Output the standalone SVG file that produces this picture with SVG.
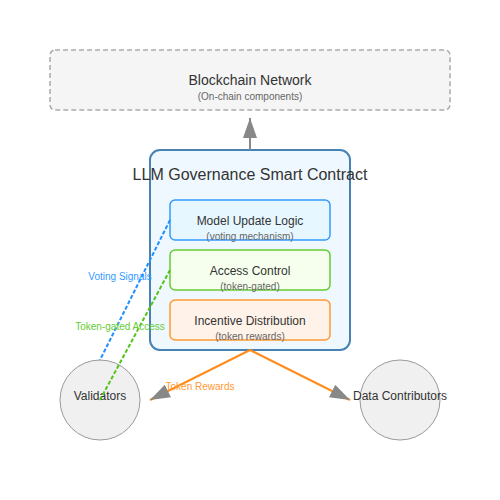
<svg xmlns="http://www.w3.org/2000/svg" width="500" height="500" viewBox="0 0 500 500">
<defs>
<marker id="arrow" markerWidth="10" markerHeight="7" refX="10" refY="3.5" orient="auto">
<polygon points="0 0, 10 3.5, 0 7" fill="#888"/>
</marker>
<style>
text{font-family:"Liberation Sans",Arial,sans-serif;text-anchor:middle}
.t{fill:#333}
.s{fill:#666;font-size:10px}
.lbl{font-size:10px}
</style>
</defs>
<rect width="500" height="500" fill="#fff"/>
<g id="blockchain">
<rect x="50" y="50" width="400" height="60" rx="5" fill="#f5f5f5" stroke="#aaa" stroke-width="1.5" stroke-dasharray="5,3"/>
<text x="250" y="85" class="t" font-size="14">Blockchain Network</text>
<text x="250" y="100" class="s">(On-chain components)</text>
</g>
<g id="contract">
<rect x="150" y="150" width="200" height="200" rx="10" fill="#f0f8ff" stroke="#4682b4" stroke-width="2"/>
<text x="250" y="180" class="t" font-size="16">LLM Governance Smart Contract</text>
</g>
<g id="model-update">
<rect x="170" y="200" width="160" height="40" rx="5" fill="#e6f7ff" stroke="#3399ff" stroke-width="1.5"/>
<text x="250" y="225" class="t" font-size="12">Model Update Logic</text>
<text x="250" y="240" class="s">(voting mechanism)</text>
</g>
<g id="access-control">
<rect x="170" y="250" width="160" height="40" rx="5" fill="#f6ffed" stroke="#66cc33" stroke-width="1.5"/>
<text x="250" y="275" class="t" font-size="12">Access Control</text>
<text x="250" y="290" class="s">(token-gated)</text>
</g>
<g id="incentive">
<rect x="170" y="300" width="160" height="40" rx="5" fill="#fff2e8" stroke="#ff9933" stroke-width="1.5"/>
<text x="250" y="325" class="t" font-size="12">Incentive Distribution</text>
<text x="250" y="340" class="s">(token rewards)</text>
</g>
<g id="validators">
<circle cx="100" cy="400" r="40" fill="#f0f0f0" stroke="#999" stroke-width="1"/>
<text x="100" y="400" class="t" font-size="12">Validators</text>
</g>
<g id="data-contributors">
<circle cx="400" cy="400" r="40" fill="#f0f0f0" stroke="#999" stroke-width="1"/>
<text x="400" y="400" class="t" font-size="12">Data Contributors</text>
</g>
<g id="connectors">
<line x1="250" y1="150" x2="250" y2="118" stroke="#888" stroke-width="2" marker-end="url(#arrow)"/>
<line x1="170" y1="220" x2="100" y2="360" stroke="#1e90ff" stroke-width="2" stroke-dasharray="4,2"/>
<text x="120" y="280" class="lbl" fill="#3399ff">Voting Signals</text>
<line x1="170" y1="270" x2="100" y2="400" stroke="#52c41a" stroke-width="2" stroke-dasharray="4,2"/>
<text x="120" y="330" class="lbl" fill="#66cc33">Token-gated Access</text>
<line x1="250" y1="350" x2="150" y2="400" stroke="#ff8c1a" stroke-width="2" marker-end="url(#arrow)"/>
<line x1="250" y1="350" x2="350" y2="400" stroke="#ff8c1a" stroke-width="2" marker-end="url(#arrow)"/>
<text x="200" y="390" class="lbl" fill="#ff9933">Token Rewards</text>
</g>
</svg>
